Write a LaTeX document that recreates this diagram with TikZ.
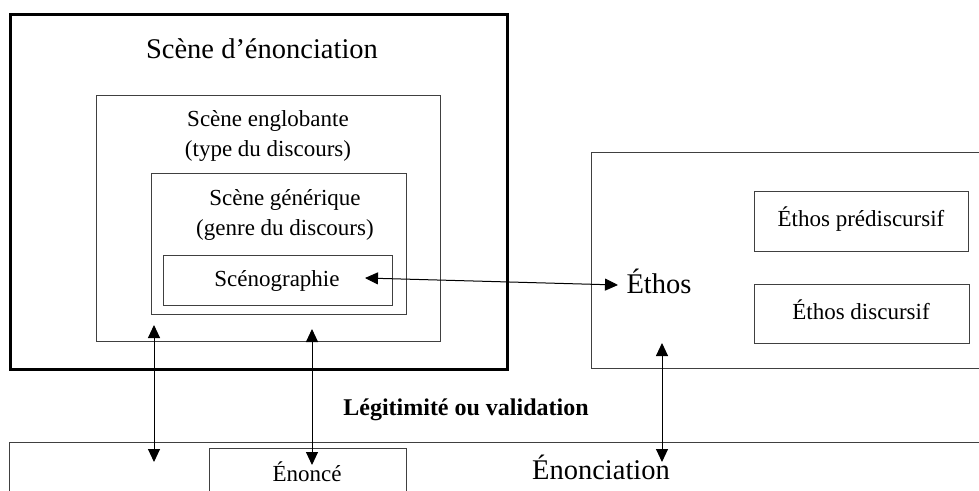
\documentclass[tikz,border=0pt]{standalone}
\usepackage{fontspec}
\setmainfont{Liberation Serif}
\usetikzlibrary{arrows.meta}

\tikzset{
  box/.style={draw=black!75, line width=1.3pt, anchor=north west, inner sep=0pt},
  bigbox/.style={box, draw=black, line width=3pt},
  lbl/.style={font=\fontsize{23}{30}\selectfont, align=center, inner sep=0pt},
  biglbl/.style={font=\fontsize{28.5}{34}\selectfont, inner sep=0pt},
  boldlbl/.style={font=\fontsize{24}{28}\selectfont\bfseries, inner sep=0pt},
  link/.style={line width=1pt, {Triangle[length=13pt,width=12pt]}-{Triangle[length=13pt,width=12pt]}}
}

\begin{document}
\begin{tikzpicture}[x=1pt, y=-1pt]
    \useasboundingbox (0,0) rectangle (979,490);
    \clip (0,0) rectangle (979,490);

    % Nested scenes (north west corner, size in px)
    \node[bigbox, minimum width=497pt, minimum height=355pt] (scene) at (9,13) {};
    \node[box, minimum width=344pt, minimum height=246pt] (englob) at (96,95) {};
    \node[box, minimum width=255pt, minimum height=141pt] (generic) at (151,173) {};
    \node[box, minimum width=229pt, minimum height=50pt] (scenobox) at (163,255) {};

    % Ethos side
    \node[box, minimum width=420pt, minimum height=216pt] (ethosbox) at (591,152) {};
    \node[box, minimum width=214pt, minimum height=60pt] (predisc) at (754,191) {};
    \node[box, minimum width=215pt, minimum height=59pt] (disc) at (754,284) {};

    % Enonciation band (runs off the page)
    \node[box, minimum width=1000pt, minimum height=100pt] (band) at (9,442) {};
    \node[box, minimum width=197pt, minimum height=60pt] (enoncebox) at (209,448) {};

    % Labels
    \node[biglbl] (tscene) at (262,49) {Scène d’énonciation};
    \node[lbl] (tenglob) at (268,136) {Scène englobante\\(type du discours)};
    \node[lbl] (tgeneric) at (285,215) {Scène générique\\(genre du discours)};
    \node[lbl] (tsceno) at (277,281) {Scénographie};
    \node[biglbl] (tethos) at (659,281) {Éthos};
    \node[lbl] (tpredisc) at (861,219) {Éthos prédiscursif};
    \node[lbl] (tdisc) at (861,310) {Éthos discursif};
    \node[boldlbl] (tlegit) at (466,410) {Légitimité ou validation};
    \node[lbl] (tenonce) at (307,472) {Énoncé};
    \node[biglbl] (tenonc) at (601,467) {Énonciation};

    % Arrow ends
    \coordinate (s1) at (365,278); \coordinate (e1) at (618,285);
    \coordinate (a1) at (154,325); \coordinate (b1) at (154,462);
    \coordinate (a2) at (312,329); \coordinate (b2) at (312,465);
    \coordinate (a3) at (662,343); \coordinate (b3) at (662,462);

    % Connectors
    \draw[link] (s1) -- (e1);
    \foreach \i in {1,2,3} \draw[link] (a\i) -- (b\i);
\end{tikzpicture}
\end{document}
